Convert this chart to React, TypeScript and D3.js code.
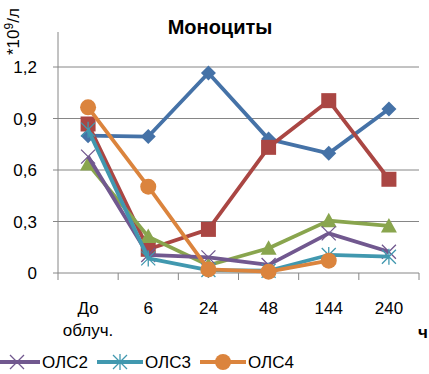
import React from "react";
import * as d3 from "d3";

const categories = ["До облуч.", "6", "24", "48", "144", "240"];
const yTicks = [0, 0.3, 0.6, 0.9, 1.2];
const yTickLabels = ["0", "0,3", "0,6", "0,9", "1,2"];

const seriesNames = ["ОЛС0", "ОЛС1", "ОЛС5", "ОЛС2", "ОЛС3", "ОЛС4"];
const blueValues = [0.80, 0.795, 1.165, 0.78, 0.697, 0.955];
const redValues = [0.868, 0.138, 0.254, 0.732, 1.004, 0.546];
const greenValues = [0.635, 0.212, 0.045, 0.144, 0.305, 0.274];
const purpleValues = [0.678, 0.105, 0.091, 0.047, 0.231, 0.124];
const cyanValues = [0.835, 0.085, 0.017, 0.013, 0.105, 0.095];
const orangeValues: (number | null)[] = [0.965, 0.503, 0.021, 0.008, 0.072, null];

const colors = ["#4572A7", "#AA4643", "#89A54E", "#71588F", "#4198AF", "#DB843D"];
const markers = ["diamond", "square", "triangle", "x", "star", "circle"];
const legendIdx = [3, 4, 5];

const W = 429, H = 374;
const left = 58, right = 419, top = 67, bottom = 273;
const FONT = "'Liberation Sans', Arial, sans-serif";

function Marker({ type, x, y, color }: { type: string; x: number; y: number; color: string }) {
  switch (type) {
    case "diamond":
      return <path d={`M${x},${y - 7.5}L${x + 7.5},${y}L${x},${y + 7.5}L${x - 7.5},${y}Z`} fill={color} />;
    case "square":
      return <rect x={x - 7.5} y={y - 7.5} width={15} height={15} fill={color} />;
    case "triangle":
      return <path d={`M${x},${y - 8}L${x + 8},${y + 6.5}L${x - 8},${y + 6.5}Z`} fill={color} />;
    case "circle":
      return <circle cx={x} cy={y} r={8} fill={color} />;
    case "x":
      return (
        <path d={`M${x - 7},${y - 7}L${x + 7},${y + 7}M${x - 7},${y + 7}L${x + 7},${y - 7}`} stroke={color} strokeWidth={1.3} fill="none" />
      );
    case "star":
      return (
        <path
          d={`M${x - 7},${y - 7}L${x + 7},${y + 7}M${x - 7},${y + 7}L${x + 7},${y - 7}M${x},${y - 8}L${x},${y + 8}`}
          stroke={color}
          strokeWidth={1.3}
          fill="none"
        />
      );
  }
  return null;
}

export default function App() {
  const allSeries = [blueValues, redValues, greenValues, purpleValues, cyanValues, orangeValues];
  const x = d3.scaleBand<string>().domain(categories).range([left, right]);
  const y = d3.scaleLinear().domain([0, 1.2]).range([bottom, top]);
  const cx = (c: string) => (x(c) as number) + x.bandwidth() / 2;
  const line = d3
    .line<number | null>()
    .defined((d) => d !== null)
    .x((_, i) => cx(categories[i]))
    .y((d) => y(d as number));

  const gridColor = "#868686";

  return (
    <svg width={W} height={H} style={{ position: "absolute", left: 0, top: 0 }} fontFamily={FONT}>
      <rect width={W} height={H} fill="#fff" />
      {yTicks.map((t, i) => (
        <g key={i}>
          <line x1={left - 5} x2={right} y1={y(t)} y2={y(t)} stroke={gridColor} strokeWidth={1} />
          <text x={37} y={y(t) + 6} fontSize={17} textAnchor="end" fill="#000">
            {yTickLabels[i]}
          </text>
        </g>
      ))}
      <line x1={left} x2={left} y1={top - 35} y2={bottom} stroke={gridColor} />
      {[...categories.map((c) => x(c) as number), right].map((t, i) => (
        <line key={i} x1={t} x2={t} y1={bottom} y2={bottom + 7} stroke={gridColor} />
      ))}
      {categories.map((c, i) => {
        const parts = c.split(" ");
        return (
          <text key={i} x={cx(c)} y={314} fontSize={17} textAnchor="middle">
            {parts.map((p, j) => (
              <tspan key={j} x={cx(c)} dy={j === 0 ? 0 : 22}>
                {p}
              </tspan>
            ))}
          </text>
        );
      })}
      {allSeries.map((vals, si) => (
        <g key={si}>
          <path d={line(vals) || ""} fill="none" stroke={colors[si]} strokeWidth={3.8} strokeLinejoin="round" />
          {vals.map((v, i) =>
            v === null ? null : <Marker key={i} type={markers[si]} x={cx(categories[i])} y={y(v)} color={colors[si]} />
          )}
        </g>
      ))}
      <text x={220} y={34} fontSize={20} fontWeight="bold" textAnchor="middle">
        Моноциты
      </text>
      <text transform="translate(19,55) rotate(-90)" fontSize={17} textAnchor="start">
        *10<tspan dy={-6} fontSize={12}>9</tspan>
        <tspan dy={6}>/л</tspan>
      </text>
      <text x={418} y={338} fontSize={17} fontWeight="bold">
        ч
      </text>
      {legendIdx.map((si, k) => {
        const lx = -6 + k * 103;
        const ly = 362;
        return (
          <g key={si}>
            <line x1={lx} x2={lx + 46} y1={ly} y2={ly} stroke={colors[si]} strokeWidth={3.8} />
            <Marker type={markers[si]} x={lx + 23} y={ly} color={colors[si]} />
            <text x={lx + 48} y={ly + 6} fontSize={17}>
              {seriesNames[si]}
            </text>
          </g>
        );
      })}
    </svg>
  );
}
